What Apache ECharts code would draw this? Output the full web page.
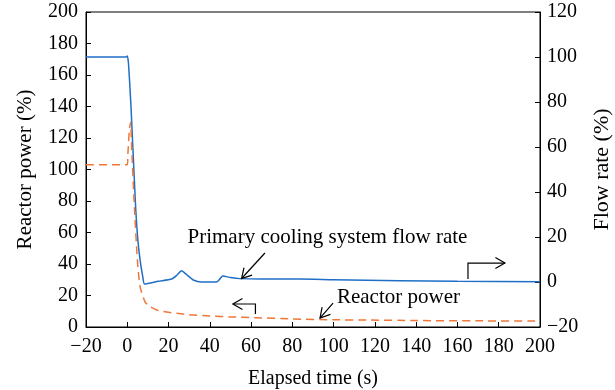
<!DOCTYPE html>
<html>
<head>
<meta charset="utf-8">
<script src="https://cdn.jsdelivr.net/npm/echarts@6/dist/echarts.min.js"></script>
<style>html,body{margin:0;padding:0;background:#fff}#c{width:615px;height:390px}</style>
</head>
<body>
<div id="c"></div>
<script>
// ---- data ----
const xTicksMin = -20, xTicksMax = 200;
const flowTime = [-20, -0.5, 0, 0.6, 1.8, 3.9, 5, 6.2, 7.5, 8.4, 15, 21.5, 24, 26.3, 28.5, 32, 36, 43.3, 45, 46.2, 50, 54.6, 64.3, 83.7, 100, 132, 160, 200];
const flowVal  = [100, 100, 100.5, 97, 78, 36, 20, 9.8, 2.4, -0.9, 0.3, 1.3, 3, 5, 3.5, 0.9, 0, 0, 1.5, 2.7, 2, 1.5, 1.3, 1.3, 1, 0.6, 0.3, 0.1];
const powerTime = [-20, 0, 0.3, 1.0, 1.6, 2.2, 3.3, 4.9, 6.2, 8.6, 11, 14.3, 19, 24, 30, 40, 50, 62.7, 80, 100, 116, 140, 170, 200];
const powerVal  = [103, 103, 110, 125, 130, 112, 80, 42.5, 25.6, 16, 13, 10.8, 9.5, 8.7, 7.8, 7, 6.4, 5.9, 5.1, 4.6, 4.4, 4.1, 3.9, 3.8];

const flowLabel = 'Primary cooling system flow rate';
const powerLabel = 'Reactor power';

// annotation anchors in data coords (x: time, y: left axis)
const flowTextPos = [97, 57];
const powerTextPos = [131.4, 19];
const flowArrow = [[66.7, 47.0], [55.4, 30.8]];
const powerArrow = [[99.7, 15.2], [93.4, 5.7]];
const leftBracket = [[62.1, 8.3], [62.1, 14.6], [51.2, 14.6]];
const rightBracket = [[165.1, 30.5], [165.1, 40.6], [183, 40.6]];

const FONT = 'Liberation Serif';
const BLUE = '#1f6fc6';
const ORANGE = '#f0773a';

const chart = echarts.init(document.getElementById('c'));
const minus = v => String(v).replace('-', '\u2212');
const axisCommon = {
  axisLine: {show: true, onZero: false, lineStyle: {color: '#000', width: 1}},
  axisTick: {show: true, inside: true, length: 5, lineStyle: {color: '#000'}},
  axisLabel: {color: '#000', fontFamily: FONT, fontSize: 20, formatter: minus},
  splitLine: {show: false}
};

chart.setOption({
  animation: false,
  grid: {left: 86, right: 75, top: 12, bottom: 63, containLabel: false, outerBoundsMode: 'none',
         show: true, borderColor: '#000', borderWidth: 1, backgroundColor: 'transparent'},
  xAxis: Object.assign({}, axisCommon, {
    type: 'value', min: xTicksMin, max: xTicksMax, interval: 20,
    name: 'Elapsed time (s)', nameLocation: 'middle', nameGap: 42,
    nameTextStyle: {color: '#000', fontFamily: FONT, fontSize: 20},
    axisLabel: Object.assign({}, axisCommon.axisLabel, {margin: 10})
  }),
  yAxis: [
    Object.assign({}, axisCommon, {
      type: 'value', min: 0, max: 200, interval: 20, position: 'left',
      name: 'Reactor power (%)', nameLocation: 'middle', nameGap: 50,
      nameTextStyle: {color: '#000', fontFamily: FONT, fontSize: 21},
      axisLabel: Object.assign({}, axisCommon.axisLabel, {margin: 8})
    }),
    Object.assign({}, axisCommon, {
      type: 'value', min: -20, max: 120, interval: 20, position: 'right',
      name: 'Flow rate (%)', nameLocation: 'middle', nameGap: 51,
      nameTextStyle: {color: '#000', fontFamily: FONT, fontSize: 22},
      axisLabel: Object.assign({}, axisCommon.axisLabel, {margin: 7})
    })
  ],
  series: [
    {
      type: 'line', yAxisIndex: 1, showSymbol: false, smooth: 0.2,
      data: flowTime.map((t, i) => [t, flowVal[i]]),
      lineStyle: {color: BLUE, width: 1.5}
    },
    {
      type: 'line', yAxisIndex: 0, showSymbol: false, smooth: 0.2,
      data: powerTime.map((t, i) => [t, powerVal[i]]),
      lineStyle: {color: ORANGE, width: 1.5, type: [8, 5]}
    }
  ]
});

function px(p) { return chart.convertToPixel({xAxisIndex: 0, yAxisIndex: 0}, p); }
function arrowHead(tip, from, size) {
  const dx = tip[0] - from[0], dy = tip[1] - from[1];
  const len = Math.hypot(dx, dy), ux = dx / len, uy = dy / len;
  const a = Math.PI / 6;
  const p1 = [tip[0] - size * (ux * Math.cos(a) - uy * Math.sin(a)), tip[1] - size * (uy * Math.cos(a) + ux * Math.sin(a))];
  const p2 = [tip[0] - size * (ux * Math.cos(a) + uy * Math.sin(a)), tip[1] - size * (uy * Math.cos(a) - ux * Math.sin(a))];
  return {type: 'polyline', z: 100, shape: {points: [p1, tip, p2]}, style: {stroke: '#000', lineWidth: 1.2, fill: null}};
}
function arrowLine(pts) {
  const p = pts.map(px);
  return [
    {type: 'polyline', z: 100, shape: {points: p}, style: {stroke: '#000', lineWidth: 1.2, fill: null}},
    arrowHead(p[p.length - 1], p[p.length - 2], 11)
  ];
}
const ft = px(flowTextPos), pt = px(powerTextPos);
chart.setOption({
  graphic: [
    {type: 'text', z: 100, x: ft[0], y: ft[1], style: {text: flowLabel, fontFamily: FONT, fontSize: 21, fill: '#000', align: 'center', verticalAlign: 'middle'}},
    {type: 'text', z: 100, x: pt[0], y: pt[1], style: {text: powerLabel, fontFamily: FONT, fontSize: 21, fill: '#000', align: 'center', verticalAlign: 'middle'}}
  ].concat(arrowLine(flowArrow), arrowLine(powerArrow), arrowLine(leftBracket), arrowLine(rightBracket))
});
</script>
</body>
</html>
